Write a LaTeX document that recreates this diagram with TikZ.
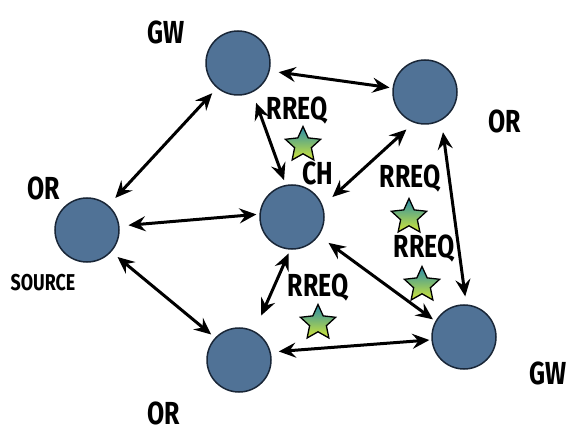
\documentclass[tikz,border=0pt]{standalone}
\usepackage{fontspec}
\setmainfont{Fira Sans}[FakeStretch=0.78]
\usetikzlibrary{arrows.meta,shapes.geometric}
\definecolor{nodeblue}{RGB}{80,114,150}
\definecolor{nodeedge}{RGB}{25,38,55}
\definecolor{startop}{RGB}{40,140,170}
\definecolor{starbot}{RGB}{210,230,55}
\begin{document}
\begin{tikzpicture}[x=1bp,y=-1bp,
  station/.style={circle, draw=nodeedge, line width=1.5bp, fill=nodeblue,
    minimum size=64bp, inner sep=0pt},
  lbl/.style={font=\fontsize{32}{32}\selectfont\bfseries, anchor=base, inner sep=0pt},
  smalllbl/.style={font=\fontsize{23}{23}\selectfont\bfseries, anchor=base, inner sep=0pt},
  link/.style={line width=3bp,
    {Stealth[length=17bp,width=15bp,inset=6bp]}-{Stealth[length=17bp,width=15bp,inset=6bp]}},
  token/.style={star, star points=5, star point ratio=2.1, minimum size=37bp,
    inner sep=0pt, draw=black, line width=1.3bp, top color=startop, bottom color=starbot}
]
\useasboundingbox (0,0) rectangle (570,433);

% stations
\node[station] (gwt) at (238,63) {};
\node[station] (orr) at (425,92) {};
\node[station] (orl) at (87,230) {};
\node[station] (ch)  at (292,217) {};
\node[station] (orb) at (239,360) {};
\node[station] (gwb) at (464,337) {};

% links (two-way), each leaving its station at a chosen border angle
\draw[link, shorten <=7bp,  shorten >=10bp] (gwt.230) -- (orl.49);
\draw[link, shorten <=9bp,  shorten >=3bp]  (gwt.346) -- (orr.173);
\draw[link, shorten <=11bp, shorten >=5bp]  (gwt.296) -- (ch.101);
\draw[link, shorten <=9bp,  shorten >=3bp]  (orl.7)   -- (ch.175);
\draw[link, shorten <=8bp,  shorten >=5bp]  (orl.318) -- (orb.137);
\draw[link, shorten <=10bp, shorten >=13bp] (orr.250) -- (ch.20);
\draw[link, shorten <=12bp, shorten >=8bp]  (orr.300) -- (gwb.86);
\draw[link, shorten <=12bp, shorten >=3bp]  (ch.325)  -- (gwb.151);
\draw[link, shorten <=4bp,  shorten >=17bp] (ch.267)  -- (orb.62);
\draw[link, shorten <=8bp,  shorten >=2bp]  (orb.14)  -- (gwb.185);

% labels
\node[lbl] (lgwt) at (166,44)  {GW};
\node[lbl] (lorl) at (44,200)  {OR};
\node[smalllbl] (lsrc) at (43,290) {SOURCE};
\node[lbl] (lorb) at (164,424) {OR};
\node[lbl] (lgwb) at (548,384) {GW};
\node[lbl] (lorr) at (505,133) {OR};
\node[lbl] (lch)  at (318,185) {CH};
\node[lbl] (rq1) at (297,120) {RREQ};
\node[lbl] (rq2) at (410,188) {RREQ};
\node[lbl] (rq3) at (424,258) {RREQ};
\node[lbl] (rq4) at (318,296) {RREQ};

% request tokens
\node[token] (s1) at (303,145) {};
\node[token] (s2) at (409,217) {};
\node[token] (s3) at (422,285) {};
\node[token] (s4) at (318,323) {};
\end{tikzpicture}
\end{document}
